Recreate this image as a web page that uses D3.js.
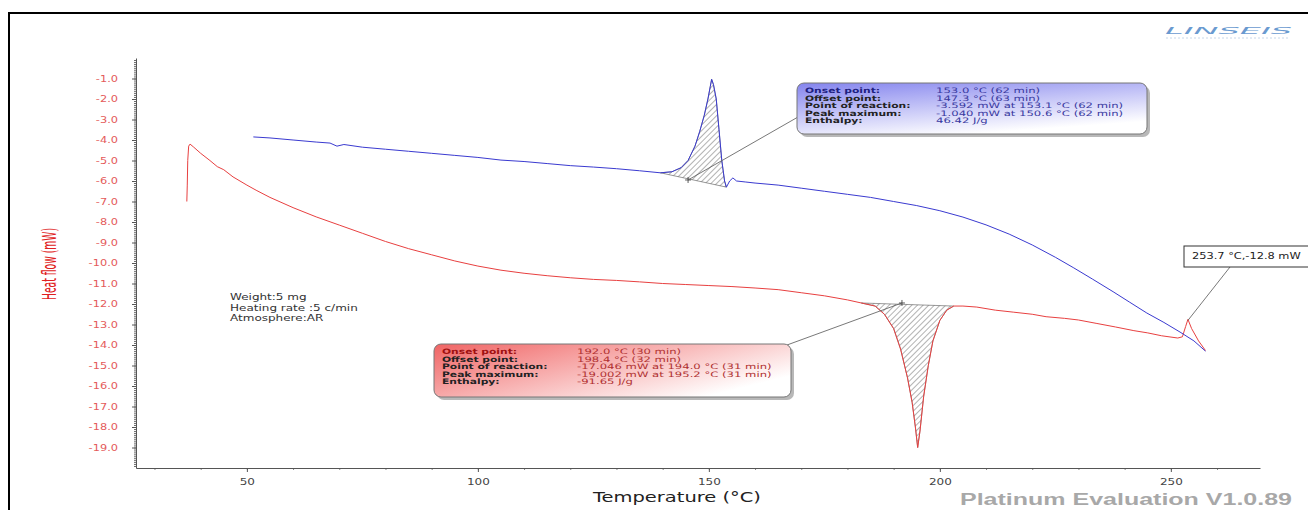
<!DOCTYPE html>
<html>
<head>
<meta charset="utf-8">
<script src="https://cdn.jsdelivr.net/npm/d3@7"></script>
<style>
  body { margin: 0; background: #fff; }
  svg { display: block; }
</style>
</head>
<body>
<svg width="1308" height="510"></svg>
<script>
// curve readings, [temperature °C, heat flow mW]
const redCurve = [
  [37.0,-7.0],[37.1,-6.2],[37.2,-5.0],[37.4,-4.3],[37.7,-4.2],[38.5,-4.35],[40,-4.65],[42,-5.0],
  [43.6,-5.3],[45,-5.45],[47,-5.8],[50,-6.2],[52,-6.45],[55,-6.8],[60,-7.3],[65,-7.75],
  [70,-8.15],[75,-8.55],[80,-8.95],[85,-9.3],[90,-9.6],[95,-9.9],[100,-10.15],[105,-10.35],
  [110,-10.5],[115,-10.62],[120,-10.72],[125,-10.8],[130,-10.85],[135,-10.92],[140,-11.0],
  [145,-11.05],[150,-11.1],[155,-11.15],[160,-11.22],[165,-11.3],[170,-11.45],[175,-11.6],
  [180,-11.8],[183,-11.95],[186,-12.1],[188,-12.5],[190,-13.2],[191.5,-14.2],[193,-15.6],
  [194,-16.8],[194.7,-18.0],[195.2,-19.0],[195.7,-18.2],[196.5,-16.5],[197.5,-15.0],
  [198.5,-13.8],[200,-12.8],[201.5,-12.3],[203,-12.1],[205,-12.1],[208,-12.15],[212,-12.3],
  [216,-12.4],[220,-12.5],[223,-12.62],[227,-12.7],[230,-12.78],[234,-12.95],[238,-13.12],
  [242,-13.3],[245,-13.41],[248,-13.55],[251.5,-13.66],[252.5,-13.6],[253.2,-13.1],
  [253.7,-12.75],[254.5,-13.2],[256,-13.8],[257.5,-14.27]
];
const blueCurve = [
  [51.4,-3.85],[55,-3.9],[60,-4.0],[65,-4.1],[68,-4.15],[69.5,-4.3],[71,-4.22],[75,-4.35],[80,-4.45],
  [85,-4.55],[90,-4.65],[95,-4.75],[100,-4.85],[105,-4.98],[110,-5.05],[115,-5.15],
  [120,-5.25],[125,-5.32],[130,-5.4],[135,-5.5],[139.5,-5.6],[142,-5.55],[144,-5.35],
  [145.5,-5.0],[147,-4.3],[148,-3.6],[149,-2.8],[149.8,-2.0],[150.3,-1.4],[150.6,-1.04],
  [151.0,-1.3],[151.6,-2.0],[152.2,-3.5],[152.8,-5.0],[153.4,-6.0],[153.8,-6.3],[154.5,-6.0],
  [155.2,-5.85],[156,-6.0],[158,-6.05],[160,-6.1],[165,-6.2],[170,-6.35],[175,-6.5],
  [180,-6.65],[185,-6.8],[190,-7.0],[195,-7.2],[200,-7.45],[205,-7.76],[210,-8.14],
  [215,-8.59],[220,-9.12],[225,-9.72],[229,-10.24],[233,-10.78],[237.5,-11.4],[241,-11.9],
  [244.8,-12.44],[248.5,-12.9],[252,-13.37],[255,-13.8],[257.5,-14.3]
];
// integration limits of the two peaks
const bluePeak = [139.5, 153.8];
const redPeak = [181, 203];
const blueMark = [145.5, -5.95];
const redMark = [191.8, -11.95];
const specialPoint = [253.7, -12.8];

const yTicks = d3.range(-1, -20, -1);
const xTicks = [50, 100, 150, 200, 250];

const labels = ["Onset point:", "Offset point:", "Point of reaction:", "Peak maximum:", "Enthalpy:"];
const blueValues = ["153.0 °C (62 min)", "147.3 °C (63 min)", "-3.592 mW at 153.1 °C (62 min)",
  "-1.040 mW at 150.6 °C (62 min)", "46.42 J/g"];
const redValues = ["192.0 °C (30 min)", "198.4 °C (32 min)", "-17.046 mW at 194.0 °C (31 min)",
  "-19.002 mW at 195.2 °C (31 min)", "-91.65 J/g"];
const infoLines = ["Weight:5 mg", "Heating rate :5 c/min", "Atmosphere:AR"];

const svg = d3.select("svg");
const font = "DejaVu Sans, Verdana, sans-serif";

// the source screenshot is stretched sideways, so text gets widened to match
function stretch(sel, k) {
  sel.each(function() {
    const w = this.getComputedTextLength();
    d3.select(this).attr("textLength", w * k).attr("lengthAdjust", "spacingAndGlyphs");
  });
}

const x = d3.scaleLinear().domain([26, 269.3]).range([136, 1260]);
const y = d3.scaleLinear().domain([-20, 0]).range([468, 58]);

const defs = svg.append("defs");
const hatch = defs.append("pattern")
  .attr("id", "hatch").attr("patternUnits", "userSpaceOnUse")
  .attr("width", 4).attr("height", 4)
  .attr("patternTransform", "rotate(45)");
hatch.append("line").attr("x1", 0).attr("y1", 0).attr("x2", 0).attr("y2", 4)
  .attr("stroke", "#555").attr("stroke-width", 0.9);

const gBlue = defs.append("linearGradient").attr("id", "gBlue")
  .attr("x1", 0).attr("y1", 0).attr("x2", 0.5).attr("y2", 1);
gBlue.append("stop").attr("offset", "0%").attr("stop-color", "#8484ee");
gBlue.append("stop").attr("offset", "100%").attr("stop-color", "#ffffff");
const gRed = defs.append("linearGradient").attr("id", "gRed")
  .attr("x1", 0).attr("y1", 0).attr("x2", 1).attr("y2", 0.6);
gRed.append("stop").attr("offset", "0%").attr("stop-color", "#f06464");
gRed.append("stop").attr("offset", "100%").attr("stop-color", "#ffffff");

// frame
svg.append("rect").attr("x", 9).attr("y", 13).attr("width", 1320).attr("height", 520)
  .attr("fill", "none").attr("stroke", "#000").attr("stroke-width", 2);

// y axis with dense minor ticks
svg.append("g").attr("transform", "translate(136,0)")
  .call(d3.axisLeft(y).tickValues(d3.range(-19.9, -0.05, 0.1)).tickSize(2).tickFormat(""))
  .call(g => g.select(".domain").remove())
  .selectAll("line").attr("stroke", "#666");
const yAxis = svg.append("g").attr("transform", "translate(136,0)")
  .call(d3.axisLeft(y).tickValues(yTicks).tickSize(4).tickPadding(14)
    .tickFormat(d => d.toFixed(1)).tickSizeOuter(0));
yAxis.select(".domain").attr("stroke", "#555");
yAxis.selectAll(".tick line").attr("stroke", "#555");
yAxis.selectAll("text").attr("fill", "#e45a5a").style("font", `8px ${font}`).call(stretch, 1.42);

// x axis
svg.append("g").attr("transform", "translate(0,468)")
  .call(d3.axisBottom(x).tickValues(d3.range(30, 270, 10)).tickSize(2).tickFormat(""))
  .call(g => g.select(".domain").remove())
  .selectAll("line").attr("stroke", "#888");
const xAxis = svg.append("g").attr("transform", "translate(0,468)")
  .call(d3.axisBottom(x).tickValues(xTicks).tickSize(4).tickPadding(7).tickSizeOuter(0));
xAxis.select(".domain").attr("stroke", "#555");
xAxis.selectAll(".tick line").attr("stroke", "#555");
xAxis.selectAll("text").attr("fill", "#444").style("font", `8px ${font}`).call(stretch, 1.5);

svg.append("text").attr("x", 677).attr("y", 502).attr("text-anchor", "middle")
  .attr("fill", "#222").style("font", `14px ${font}`)
  .text("Temperature (°C)").call(stretch, 1.39);

svg.append("text").attr("transform", "translate(56,264) scale(1.5,1) rotate(-90)")
  .attr("text-anchor", "middle").attr("fill", "#e02020")
  .attr("textLength", 72).attr("lengthAdjust", "spacingAndGlyphs")
  .style("font", `13px ${font}`)
  .text("Heat flow (mW)");

// hatched peak areas
function peakArea(curve, lim) {
  const pts = curve.filter(d => d[0] >= lim[0] && d[0] <= lim[1]);
  return pts.map(d => [x(d[0]), y(d[1])]);
}
const line = d3.line().x(d => x(d[0])).y(d => y(d[1]));
svg.append("path").attr("d", "M" + peakArea(blueCurve, bluePeak).join("L") + "Z")
  .attr("fill", "url(#hatch)").attr("stroke", "#555").attr("stroke-width", 0.6);
svg.append("path").attr("d", "M" + peakArea(redCurve, redPeak).join("L") + "Z")
  .attr("fill", "url(#hatch)").attr("stroke", "#555").attr("stroke-width", 0.6);

svg.append("path").datum(redCurve).attr("d", line)
  .attr("fill", "none").attr("stroke", "#e84040").attr("stroke-width", 1);
svg.append("path").datum(blueCurve).attr("d", line)
  .attr("fill", "none").attr("stroke", "#3a3ad0").attr("stroke-width", 1);

// markers + leader lines
function cross(p) {
  const cx = x(p[0]), cy = y(p[1]);
  svg.append("path").attr("d", `M${cx - 3},${cy}H${cx + 3}M${cx},${cy - 3}V${cy + 3}`)
    .attr("stroke", "#333").attr("stroke-width", 0.8);
}
cross(blueMark);
cross(redMark);
svg.append("line").attr("x1", x(blueMark[0])).attr("y1", y(blueMark[1]))
  .attr("x2", 798).attr("y2", 117).attr("stroke", "#555").attr("stroke-width", 0.8);
svg.append("line").attr("x1", x(redMark[0])).attr("y1", y(redMark[1]))
  .attr("x2", 787).attr("y2", 345).attr("stroke", "#555").attr("stroke-width", 0.8);
svg.append("line").attr("x1", x(specialPoint[0])).attr("y1", y(specialPoint[1]))
  .attr("x2", 1230).attr("y2", 267).attr("stroke", "#555").attr("stroke-width", 0.8);

// result boxes
function resultBox(bx, by, bw, bh, fill, labelColor, valueColor, values, valueX) {
  const g = svg.append("g");
  g.append("rect").attr("x", bx + 3).attr("y", by + 3).attr("width", bw).attr("height", bh)
    .attr("rx", 7).attr("fill", "#888").attr("opacity", 0.6);
  g.append("rect").attr("x", bx).attr("y", by).attr("width", bw).attr("height", bh)
    .attr("rx", 7).attr("fill", fill).attr("stroke", "#777").attr("stroke-width", 1);
  labels.forEach((t, i) => {
    g.append("text").attr("x", bx + 8).attr("y", by + 10 + i * 7.6)
      .attr("fill", i === 0 ? labelColor : "#222").style("font", `bold 7.5px ${font}`)
      .text(t).call(stretch, 1.43);
    g.append("text").attr("x", valueX).attr("y", by + 10 + i * 7.6)
      .attr("fill", valueColor).style("font", `7.5px ${font}`)
      .text(values[i]).call(stretch, 1.55);
  });
}
resultBox(797, 83, 350, 51, "url(#gBlue)", "#202080", "#3838a0", blueValues, 936);
resultBox(434, 344, 357, 53, "url(#gRed)", "#a01010", "#b03030", redValues, 577);

// single point label
svg.append("rect").attr("x", 1184).attr("y", 246).attr("width", 140).attr("height", 21)
  .attr("fill", "#fff").attr("stroke", "#333").attr("stroke-width", 1);
svg.append("text").attr("x", 1192).attr("y", 259).attr("fill", "#222")
  .style("font", `8px ${font}`).text(`${specialPoint[0]} °C,${specialPoint[1]} mW`)
  .call(stretch, 1.42);

// measurement info
infoLines.forEach((t, i) => {
  svg.append("text").attr("x", 230).attr("y", 300 + i * 10.5).attr("fill", "#333")
    .style("font", `8px ${font}`).text(t).call(stretch, 1.5);
});

// logo + footer
svg.append("text").attr("x", 1165).attr("y", 34).attr("textLength", 127)
  .attr("lengthAdjust", "spacingAndGlyphs").attr("fill", "#6a9ad0")
  .style("font", `italic 9px ${font}`).text("LINSEIS");
svg.append("line").attr("x1", 1166).attr("x2", 1290).attr("y1", 38).attr("y2", 38)
  .attr("stroke", "#c8d8ea").attr("stroke-dasharray", "2,2");
svg.append("text").attr("x", 960).attr("y", 505).attr("textLength", 332)
  .attr("lengthAdjust", "spacingAndGlyphs").attr("fill", "#a8a8a8")
  .style("font", `bold 16px 'Liberation Sans', Arial, sans-serif`).text("Platinum Evaluation V1.0.89");
</script>
</body>
</html>
